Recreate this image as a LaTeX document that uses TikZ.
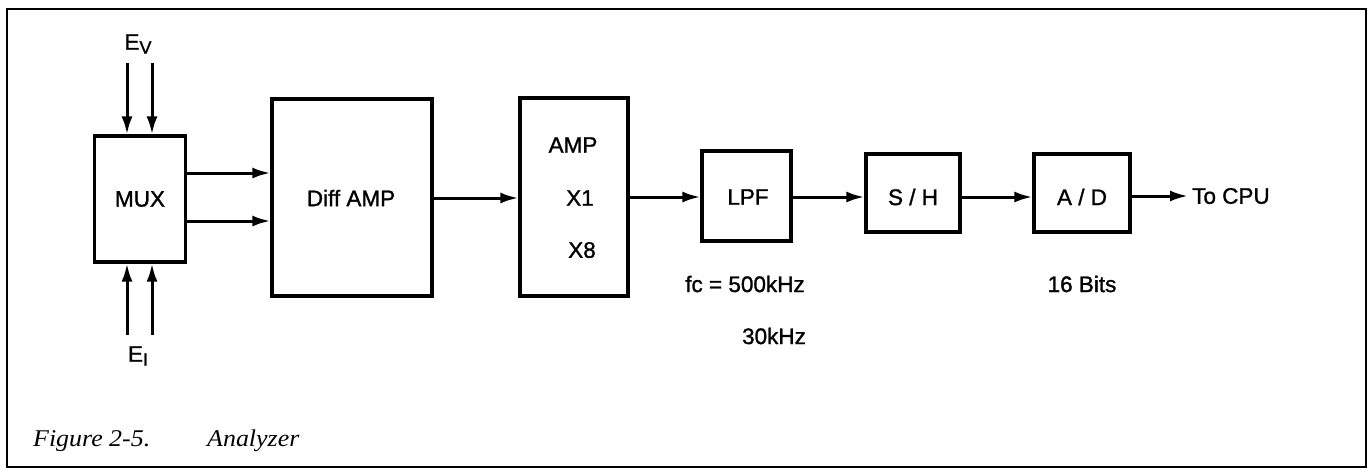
\documentclass[tikz,border=0pt]{standalone}
\usepackage{fontspec}
\usepackage{graphicx}
\setmainfont{Liberation Sans}
\newfontfamily\tfont{Liberation Sans}[AutoFakeBold=1.2]
\newfontfamily\capfont{Liberation Serif}[AutoFakeBold=1.2]
\usetikzlibrary{arrows.meta}
\tikzset{
  blk/.style={draw, line width=3.2pt, inner sep=0pt},
  lbl/.style={inner sep=0pt, font=\tfont\bfseries\fontsize{22.5}{26}\selectfont},
  arr/.style={line width=3pt, -{Latex[length=18pt,width=11pt]}},
  captext/.style={inner sep=0pt, anchor=base west, font=\capfont\bfseries\itshape\fontsize{24}{28}\selectfont}
}
\begin{document}
\begin{tikzpicture}[x=1pt,y=-1pt]
\useasboundingbox (0,0) rectangle (1372,469);
\draw[line width=2.2pt] (7,9) rectangle (1366,467);

\node[blk, minimum width=91pt, minimum height=126pt] (mux) at (140,199) {};
\node[lbl] (muxt) at (140,199) {MUX};
\node[blk, minimum width=160pt, minimum height=197pt] (diff) at (352,197.5) {};
\node[lbl] (difft) at (351,198) {Diff AMP};
\node[blk, minimum width=108pt, minimum height=198pt] (amp) at (574,197) {};
\node[lbl] (ampt) at (573,145) {AMP};
\node[lbl] (x1) at (580,198) {X1};
\node[lbl] (x8) at (582,250) {X8};
\node[blk, minimum width=89pt, minimum height=90pt] (lpf) at (746.5,196) {};
\node[lbl] (lpft) at (748,197) {LPF};
\node[blk, minimum width=94pt, minimum height=78pt] (sh) at (913,193) {};
\node[lbl] (sht) at (913,197) {S / H};
\node[blk, minimum width=96pt, minimum height=78pt] (ad) at (1082,193) {};
\node[lbl] (adt) at (1082,197) {A / D};

\node[lbl, anchor=west] (cpu) at (1192,196) {To CPU};
\node[lbl] (fc) at (745,284) {fc = 500kHz};
\node[lbl] (f30) at (774,336) {30kHz};
\node[lbl] (bits) at (1082,284) {16 Bits};

\node[lbl] (ev) at (138,44) {E\raisebox{-4pt}{\fontsize{18}{20}\selectfont V}};
\node[lbl] (ei) at (138,356) {E\raisebox{-4pt}{\fontsize{18}{20}\selectfont I}};

\coordinate (ev1) at (127,63);
\coordinate (ev2) at (152,63);
\coordinate (ei1) at (127,335);
\coordinate (ei2) at (152,335);
\draw[arr] (ev1) -- (mux.north -| ev1);
\draw[arr] (ev2) -- (mux.north -| ev2);
\draw[arr] (ei1) -- (mux.south -| ei1);
\draw[arr] (ei2) -- (mux.south -| ei2);

\draw[arr] (mux.east |- 0,173) -- (diff.west |- 0,173);
\draw[arr] (mux.east |- 0,221) -- (diff.west |- 0,221);
\draw[arr] (diff.east |- 0,198) -- (amp.west |- 0,198);
\draw[arr] (amp.east |- 0,197) -- (lpf.west |- 0,197);
\draw[arr] (lpf.east |- 0,197) -- (sh.west |- 0,197);
\draw[arr] (sh.east |- 0,197) -- (ad.west |- 0,197);
\draw[arr] (ad.east |- 0,196) -- ([xshift=-4pt]cpu.west);

\node[captext] (fig) at (33,446) {\scalebox{1.08}[1]{Figure 2-5.}};
\node[captext] (ana) at (207,446) {\scalebox{1.08}[1]{Analyzer}};
\end{tikzpicture}
\end{document}
